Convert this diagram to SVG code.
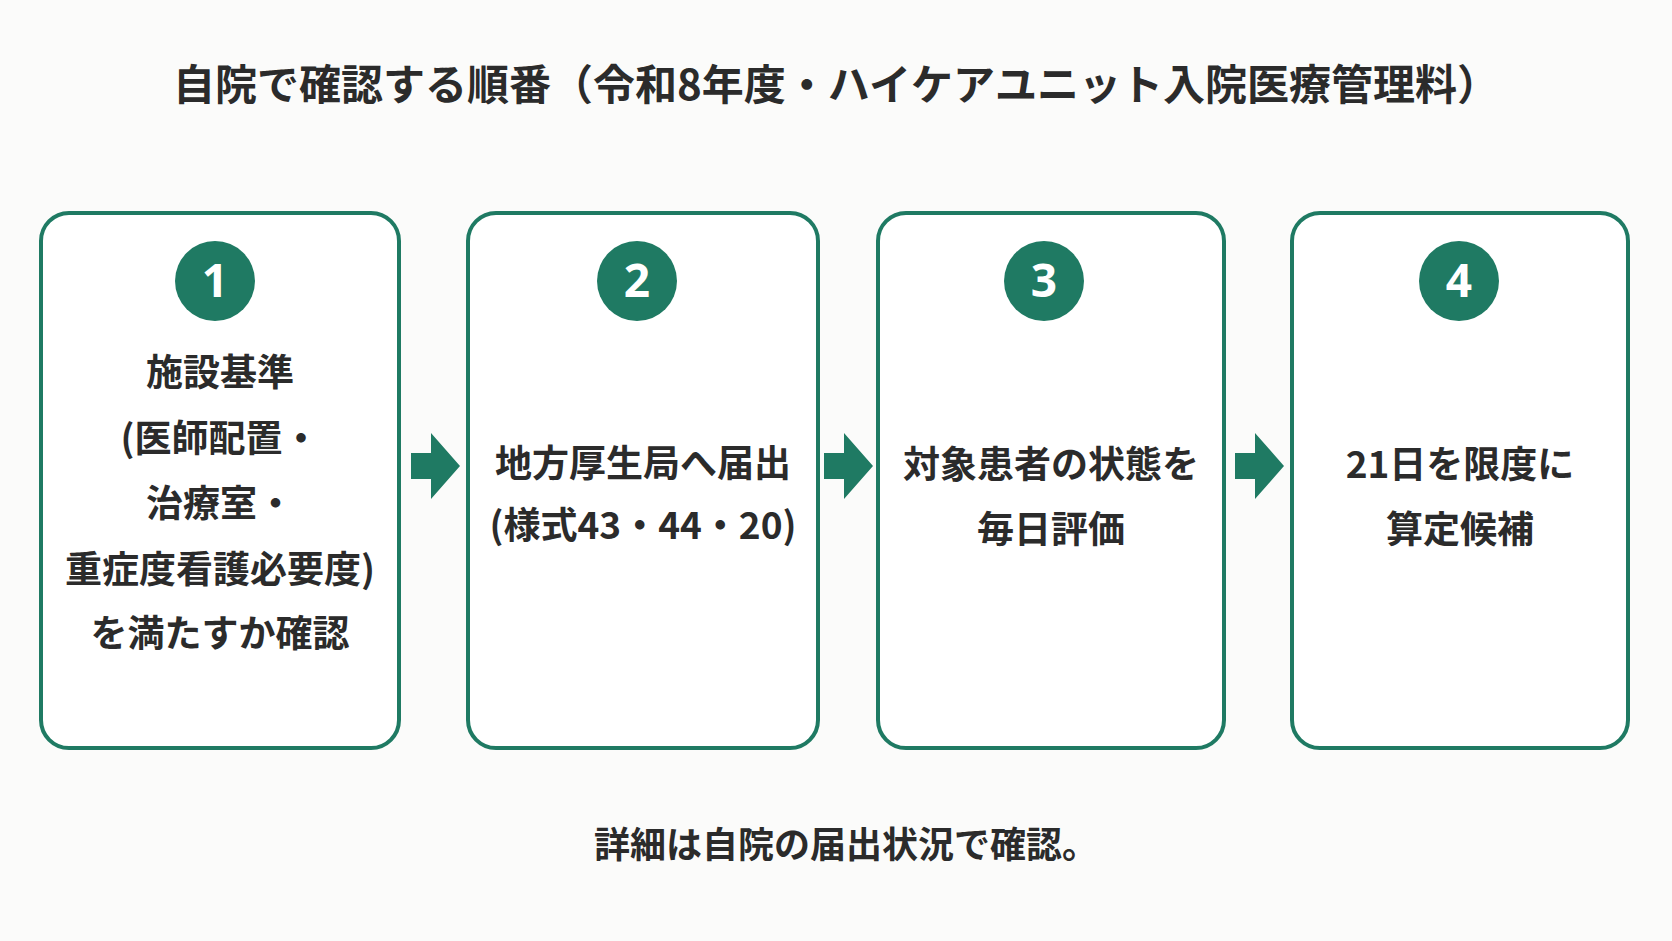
<svg xmlns="http://www.w3.org/2000/svg" width="1672" height="941" viewBox="0 0 1672 941">
<style>
text{font-family:"Noto Sans CJK JP","Noto Sans",sans-serif;fill:#2b2b2b;font-weight:700;text-anchor:middle}
.box{fill:#fff;stroke:#1f7a63;stroke-width:4}
.c{fill:#1f7a63}
.n{fill:#fff;font-size:46px;font-family:"Noto Sans","Liberation Sans",sans-serif}
.t{font-size:37px}
.ar{fill:#1f7a63}
</style>
<rect width="1672" height="941" fill="#fbfbfa"/>
<text x="836" y="100" style="font-size:42px">自院で確認する順番（令和8年度・ハイケアユニット入院医療管理料）</text>
<g id="node1"><rect class="box" x="41" y="213" width="358" height="535" rx="28"/><circle class="c" cx="215" cy="281" r="40"/><text class="n" x="215" y="297">1</text>
<text class="t" x="220" y="386">施設基準</text><text class="t" x="220" y="452">(医師配置・</text><text class="t" x="220" y="517">治療室・</text><text class="t" x="220" y="583">重症度看護必要度)</text><text class="t" x="220" y="647">を満たすか確認</text></g>
<g id="node2"><rect class="box" x="468" y="213" width="350" height="535" rx="28"/><circle class="c" cx="637" cy="281" r="40"/><text class="n" x="637" y="297">2</text>
<text class="t" x="643" y="477">地方厚生局へ届出</text><text class="t" x="643" y="539">(様式43・44・20)</text></g>
<g id="node3"><rect class="box" x="878" y="213" width="346" height="535" rx="28"/><circle class="c" cx="1044" cy="281" r="40"/><text class="n" x="1044" y="297">3</text>
<text class="t" x="1051" y="478">対象患者の状態を</text><text class="t" x="1051" y="543">毎日評価</text></g>
<g id="node4"><rect class="box" x="1292" y="213" width="336" height="535" rx="28"/><circle class="c" cx="1459" cy="281" r="40"/><text class="n" x="1459" y="297">4</text>
<text class="t" x="1460" y="478">21日を限度に</text><text class="t" x="1460" y="543">算定候補</text></g>
<g id="connectors">
<polygon class="ar" points="411,453 431,453 431,433 460,466 431,499 431,479 411,479"/>
<polygon class="ar" points="824,453 844,453 844,433 873,466 844,499 844,479 824,479"/>
<polygon class="ar" points="1235,453 1255,453 1255,433 1284,466 1255,499 1255,479 1235,479"/>
</g>
<text x="846" y="858" style="font-size:36px">詳細は自院の届出状況で確認。</text>
</svg>
